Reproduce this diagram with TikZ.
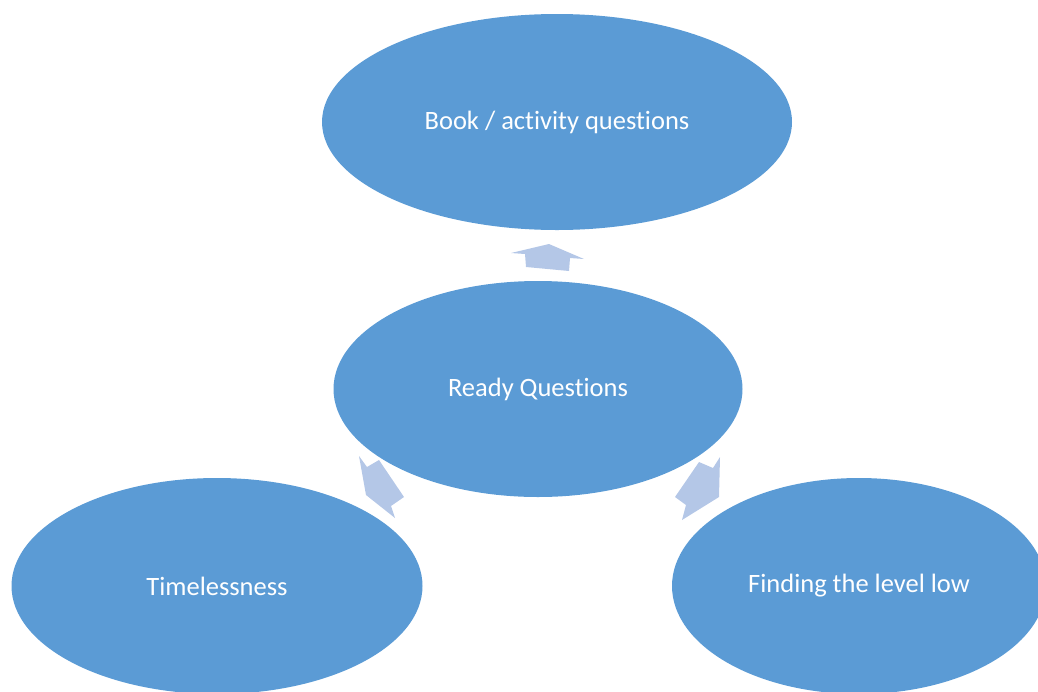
\documentclass[tikz,border=0pt]{standalone}
\usepackage{fontspec}
\setmainfont{Carlito}[Ligatures=NoCommon]
\usepackage{xcolor}
\usetikzlibrary{calc, shapes.geometric}

\definecolor{bubbleblue}{HTML}{5B9BD5}
\definecolor{arrowblue}{HTML}{B4C7E7}

\tikzset{
  bubble/.style={ellipse, fill=bubbleblue, draw=none, inner sep=0pt,
    minimum height=216pt, text=white, font=\fontsize{26.5}{30}\selectfont},
  blockarrow/.style={fill=arrowblue, draw=none}
}

\begin{document}
\begin{tikzpicture}[x=1pt, y=-1pt]
  % Fix the page to the size of the picture
  \useasboundingbox (0,0) rectangle (1038,691);
  \clip (0,0) rectangle (1038,691);

  % Draw the four ellipses
  \node[bubble, minimum width=470pt] (book) at (557,122) {Book / activity questions};
  \node[bubble, minimum width=409pt] (ready) at (538,389) {Ready Questions};
  \node[bubble, minimum width=411pt] (time) at (217,586) {Timelessness};
  \node[bubble, minimum width=374pt] (find) at (859,586) {Finding the level low};

  % Draw the block arrows between the ellipses
  \fill[blockarrow] (511,253) -- (549,244) -- (584,259) -- (570,258)
    -- (569,271) -- (526,267) -- (525,254) -- cycle;
  \fill[blockarrow] (359,456) -- (367,467) -- (379,460) -- (404,497)
    -- (391,506) -- (395,518) -- (366,495) -- cycle;
  \fill[blockarrow] (720,457) -- (713,468) -- (699,462) -- (675,497)
    -- (686,505) -- (682,520) -- (719,497) -- cycle;

\end{tikzpicture}
\end{document}
